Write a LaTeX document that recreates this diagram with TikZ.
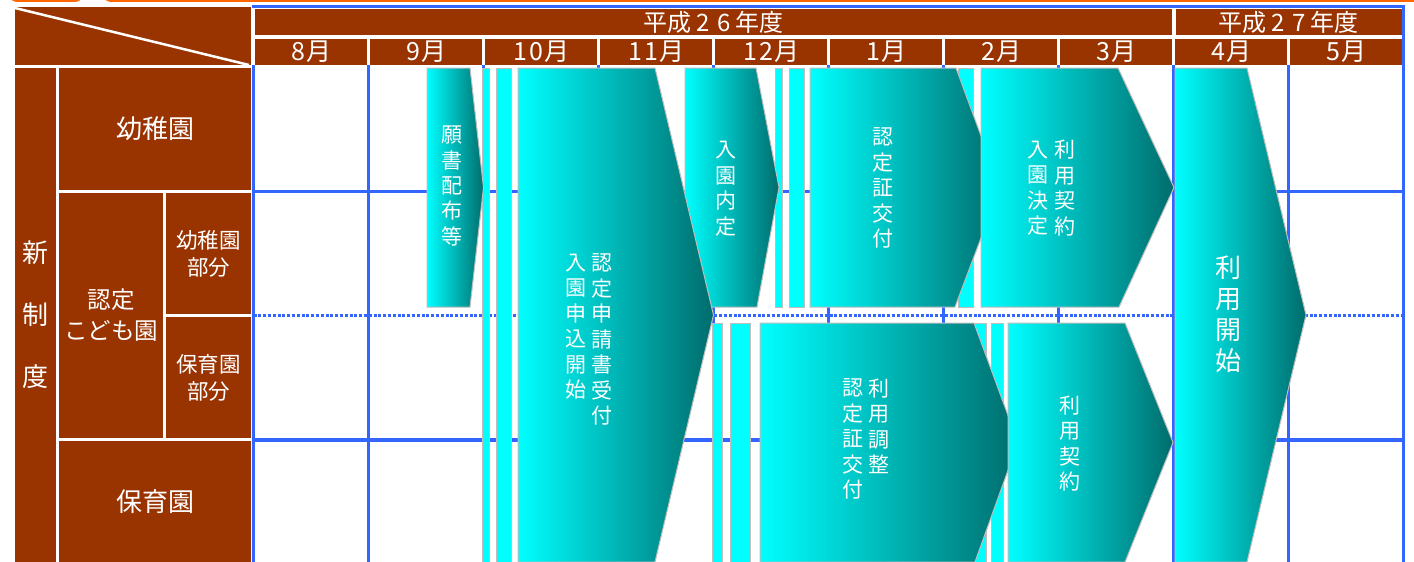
\documentclass[tikz,border=0pt]{standalone}
\usepackage{fontspec}
\newfontfamily\jp{Noto Sans CJK JP}
\definecolor{brn}{RGB}{153,51,0}
\definecolor{bgrid}{RGB}{51,102,255}
\definecolor{cy}{RGB}{0,255,255}
\definecolor{tl}{RGB}{0,108,108}
\definecolor{bd}{RGB}{190,190,190}
\definecolor{org}{RGB}{255,102,0}
\newcommand\dg[1]{\makebox[0.65em]{#1}}
\tikzset{
  gline/.style={draw=bgrid, line width=3.5pt},
  dline/.style={draw=bgrid, line width=3.5pt, dash pattern=on 3pt off 1.8pt},
  shp/.style={left color=cy, right color=tl, draw=bd, line width=1pt},
  barbox/.style={fill=cy, draw=bd, line width=1pt},
  lbl/.style={text=white, inner sep=0pt, align=center},
  vt/.style={lbl, font=\jp\fontsize{21}{25.5}\selectfont},
  hcell/.style={fill=brn, text=white, inner sep=0pt, minimum height=26pt, font=\jp\fontsize{24}{24}\selectfont},
  lcell/.style={fill=brn, text=white, inner sep=0pt, align=center, font=\jp\fontsize{26}{31}\selectfont},
}
\begin{document}
\begin{tikzpicture}[x=1pt,y=-1pt]
\useasboundingbox[fill=white] (0,0) rectangle (1414,562);
% orange bits of boxes above
\draw[org, line width=2.5pt, rounded corners=4pt] (12,-30) rectangle (80,0.6);
\draw[org, line width=2.5pt, rounded corners=4pt] (106,-30) rectangle (1440,0.6);
% blue grid
\foreach \i in {0,...,9} \draw[gline] ({253.5+115*\i},65) -- ({253.5+115*\i},562);
\draw[gline] (1403.5,5) -- (1403.5,562);
\draw[gline] (251.5,6.5) -- (1405.2,6.5);
\draw[gline] (253.5,191.5) -- (1403.5,191.5);
\draw[gline] (253.5,440) -- (1403.5,440);
\draw[dline] (253.5,315.5) -- (1403.5,315.5);
% header
\fill[brn] (15,7) rectangle (251,65);
\draw[white, line width=2.5pt] (15,8) -- (249,65);
\node[hcell, minimum width=917pt] (y26) at (713.5,22) {平成\makebox[0.9em]{2}\makebox[0.9em]{6}年度};
\node[hcell, minimum width=226pt] (y27) at (1288.5,22) {平成\makebox[0.9em]{2}\makebox[0.9em]{7}年度};
\node[hcell, minimum width=112pt, font=\jp\fontsize{25}{25}\selectfont] (mon0) at (311,52) {\dg{8}月};
\node[hcell, minimum width=112pt, font=\jp\fontsize{25}{25}\selectfont] (mon1) at (426,52) {\dg{9}月};
\node[hcell, minimum width=112pt, font=\jp\fontsize{25}{25}\selectfont] (mon2) at (541,52) {\dg{1}\dg{0}月};
\node[hcell, minimum width=112pt, font=\jp\fontsize{25}{25}\selectfont] (mon3) at (656,52) {\dg{1}\dg{1}月};
\node[hcell, minimum width=112pt, font=\jp\fontsize{25}{25}\selectfont] (mon4) at (771,52) {\dg{1}\dg{2}月};
\node[hcell, minimum width=112pt, font=\jp\fontsize{25}{25}\selectfont] (mon5) at (886,52) {\dg{1}月};
\node[hcell, minimum width=112pt, font=\jp\fontsize{25}{25}\selectfont] (mon6) at (1001,52) {\dg{2}月};
\node[hcell, minimum width=112pt, font=\jp\fontsize{25}{25}\selectfont] (mon7) at (1116,52) {\dg{3}月};
\node[hcell, minimum width=112pt, font=\jp\fontsize{25}{25}\selectfont] (mon8) at (1231,52) {\dg{4}月};
\node[hcell, minimum width=112pt, font=\jp\fontsize{25}{25}\selectfont] (mon9) at (1346,52) {\dg{5}月};
% left column
\node[lcell, minimum width=41pt, minimum height=494pt, font=\jp\fontsize{26}{62}\selectfont] (sin) at (35.5,315) {新\\制\\度};
\node[lcell, minimum width=192pt, minimum height=122pt] (yochi) at (155,129) {幼稚園};
\node[lcell, minimum width=104pt, minimum height=245pt, font=\jp\fontsize{23.5}{31}\selectfont] (kodomo) at (111,315.5) {認定\\こども園};
\node[lcell, minimum width=85pt, minimum height=121pt, font=\jp\fontsize{21.5}{27}\selectfont] (ybu) at (208.5,253.5) {幼稚園\\部分};
\node[lcell, minimum width=85pt, minimum height=121pt, font=\jp\fontsize{21.5}{27}\selectfont] (hbu) at (208.5,377.5) {保育園\\部分};
\node[lcell, minimum width=192pt, minimum height=121pt] (hoiku) at (155,501.5) {保育園};
% thin bars
\draw[barbox] (482,68) rectangle (489.5,562);
\draw[barbox] (496.5,68) rectangle (511,562);
\draw[barbox] (775.5,68) rectangle (782.5,307);
\draw[barbox] (789,68) rectangle (804,307);
\draw[barbox] (958,68) rectangle (973.5,307);
\draw[barbox] (712.5,323) rectangle (722.5,562);
\draw[barbox] (730.5,323) rectangle (750.5,562);
\draw[barbox] (960,323) rectangle (986.5,562);
\draw[barbox] (991.5,323) rectangle (1003,562);
% arrow shapes
\shadedraw[shp] (427,68) -- (470,68) -- (483.5,187.5) -- (470,307) -- (427,307) -- cycle;
\shadedraw[shp] (685,68) -- (756,68) -- (779,187.5) -- (757,307) -- (685,307) -- cycle;
\shadedraw[shp] (518,68) -- (655,68) -- (713.5,315) -- (655,562) -- (518,562) -- cycle;
\shadedraw[shp] (810,68) -- (956,68) -- (1000,187.5) -- (955,307) -- (810,307) -- cycle;
\shadedraw[shp] (981,68) -- (1118,68) -- (1174,187.5) -- (1119,307) -- (981,307) -- cycle;
\shadedraw[shp] (1175,68) -- (1247,68) -- (1306,315) -- (1247,562) -- (1175,562) -- cycle;
\shadedraw[shp] (760,323) -- (974,323) -- (1018,442.5) -- (975,562) -- (760,562) -- cycle;
\shadedraw[shp] (1008,323) -- (1125,323) -- (1173,442.5) -- (1125,562) -- (1008,562) -- cycle;
% texts
\node[vt] (t1) at (452,186) {願\\書\\配\\布\\等};
\node[vt] (t2r) at (602,339.5) {認\\定\\申\\請\\書\\受\\付};
\node[vt] (t2l) at (576,326.75) {入\\園\\申\\込\\開\\始};
\node[vt] (t3) at (726,188.5) {入\\園\\内\\定};
\node[vt] (t4) at (883,188) {認\\定\\証\\交\\付};
\node[vt] (t5r) at (1065,188) {利\\用\\契\\約};
\node[vt] (t5l) at (1038,188) {入\\園\\決\\定};
\node[vt, font=\jp\fontsize{26}{31}\selectfont] (t6) at (1228,314) {利\\用\\開\\始};
\node[vt] (t7r) at (879,426.25) {利\\用\\調\\整};
\node[vt] (t7l) at (853,439) {認\\定\\証\\交\\付};
\node[vt] (t8) at (1070,443.5) {利\\用\\契\\約};
\end{tikzpicture}
\end{document}
